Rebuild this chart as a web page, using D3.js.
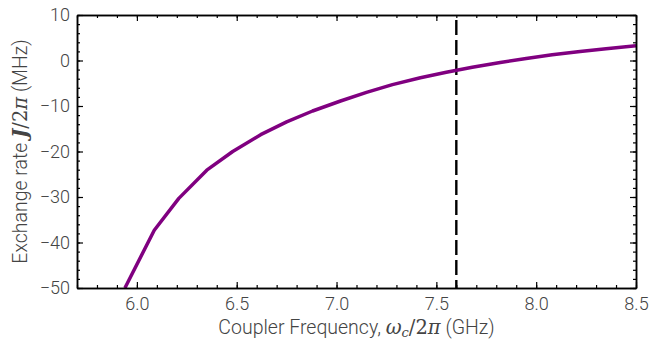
<!DOCTYPE html>
<html><head><meta charset="utf-8">
<script src="https://cdn.jsdelivr.net/npm/d3@7"></script>
<style>
body{margin:0;background:#fff;}
svg{display:block;}
.tick text{font-family:Roboto,"DejaVu Sans",sans-serif;font-weight:300;font-size:18px;fill:#444;}
</style></head>
<body><svg id="c" width="650" height="341"></svg>
<script>
const freqGHz = [5.94, 6.087, 6.21, 6.35, 6.48, 6.62, 6.75, 6.88, 7.02, 7.15, 7.28, 7.42, 7.55, 7.68, 7.82, 7.95, 8.08, 8.22, 8.35, 8.5];
const exchangeMHz = [-50, -37.3, -30.3, -24.1, -20.0, -16.3, -13.5, -11.1, -8.9, -7.0, -5.3, -3.8, -2.6, -1.5, -0.45, 0.45, 1.25, 2.0, 2.6, 3.25];
const markerFreq = 7.6;
const xTicks = [6.0, 6.5, 7.0, 7.5, 8.0, 8.5];
const yTicks = [10, 0, -10, -20, -30, -40, -50];
const xDomain = [5.7, 8.5];
const yDomain = [-50, 10];

const svg = d3.select("#c");
const L = 77, R = 636, T = 15, B = 288;
const x = d3.scaleLinear().domain(xDomain).range([L, R]);
const y = d3.scaleLinear().domain(yDomain).range([B, T]);

const xMinor = d3.range(57, 86).map(d => d / 10);
const yMinor = d3.range(-50, 11, 2);

svg.append("defs").append("clipPath").attr("id", "clip")
  .append("rect").attr("x", L).attr("y", T).attr("width", R - L).attr("height", B - T);

const data = freqGHz.map((f, i) => [f, exchangeMHz[i]]);
const line = d3.line().x(d => x(d[0])).y(d => y(d[1]));

svg.append("line")
  .attr("x1", x(markerFreq)).attr("x2", x(markerFreq))
  .attr("y1", y(yDomain[1])).attr("y2", y(yDomain[0]))
  .attr("stroke", "#000").attr("stroke-width", 2.4)
  .attr("stroke-dasharray", "15,5").attr("stroke-dashoffset", 15);

svg.append("path").datum(data)
  .attr("clip-path", "url(#clip)")
  .attr("d", line).attr("fill", "none")
  .attr("stroke", "#800080").attr("stroke-width", 3.5)
  .attr("stroke-linejoin", "round");

function styleAxis(g) {
  g.selectAll(".domain").attr("stroke", "#000").attr("stroke-width", 1.5);
  g.selectAll(".tick line").attr("stroke", "#000").attr("stroke-width", 1.2);
}

// minor ticks
svg.append("g").attr("transform", `translate(0,${B})`)
  .call(d3.axisBottom(x).tickValues(xMinor).tickFormat("").tickSizeInner(-3).tickSizeOuter(0)).call(styleAxis);
svg.append("g").attr("transform", `translate(0,${T})`)
  .call(d3.axisTop(x).tickValues(xMinor).tickFormat("").tickSizeInner(-3).tickSizeOuter(0)).call(styleAxis);
svg.append("g").attr("transform", `translate(${L},0)`)
  .call(d3.axisLeft(y).tickValues(yMinor).tickFormat("").tickSizeInner(-3).tickSizeOuter(0)).call(styleAxis);
svg.append("g").attr("transform", `translate(${R},0)`)
  .call(d3.axisRight(y).tickValues(yMinor).tickFormat("").tickSizeInner(-3).tickSizeOuter(0)).call(styleAxis);

// major ticks
svg.append("g").attr("transform", `translate(0,${B})`)
  .call(d3.axisBottom(x).tickValues(xTicks).tickFormat(d3.format(".1f")).tickSizeInner(-6).tickSizeOuter(0).tickPadding(9)).call(styleAxis);
svg.append("g").attr("transform", `translate(0,${T})`)
  .call(d3.axisTop(x).tickValues(xTicks).tickFormat("").tickSizeInner(-6).tickSizeOuter(0)).call(styleAxis);
svg.append("g").attr("transform", `translate(${L},0)`)
  .call(d3.axisLeft(y).tickValues(yTicks).tickFormat(d => d < 0 ? "\u2212" + Math.abs(d) : d).tickSizeInner(-6).tickSizeOuter(0).tickPadding(7)).call(styleAxis);
svg.append("g").attr("transform", `translate(${R},0)`)
  .call(d3.axisRight(y).tickValues(yTicks).tickFormat("").tickSizeInner(-6).tickSizeOuter(0)).call(styleAxis);

// axis titles
const xt = svg.append("text").attr("x", (L + R) / 2).attr("y", 334)
  .attr("text-anchor", "middle")
  .style("font-family", "Roboto, 'DejaVu Sans', sans-serif").style("font-weight", 300)
  .style("font-size", "19.5px").style("fill", "#444");
xt.append("tspan").text("Coupler Frequency, ");
xt.append("tspan").style("font-family", "'DejaVu Serif', serif").style("font-style", "italic").style("font-weight", 400).text("\u03c9");
xt.append("tspan").style("font-family", "'DejaVu Serif', serif").style("font-style", "italic").style("font-size", "13px").attr("dy", 3).text("c");
xt.append("tspan").attr("dy", -3).style("font-family", "'DejaVu Serif', serif").style("font-weight", 400).text("/2");
xt.append("tspan").style("font-family", "'DejaVu Serif', serif").style("font-style", "italic").style("font-weight", 400).text("\u03c0");
xt.append("tspan").text(" (GHz)");

const yt = svg.append("text").attr("transform", `translate(27,${(T + B) / 2}) rotate(-90)`)
  .attr("text-anchor", "middle")
  .style("font-family", "Roboto, 'DejaVu Sans', sans-serif").style("font-weight", 300)
  .style("font-size", "19.5px").style("fill", "#444");
yt.append("tspan").text("Exchange rate ");
yt.append("tspan").style("font-family", "'DejaVu Serif', serif").style("font-style", "italic").style("font-weight", 700).text("J");
yt.append("tspan").style("font-family", "'DejaVu Serif', serif").style("font-weight", 400).text("/2");
yt.append("tspan").style("font-family", "'DejaVu Serif', serif").style("font-style", "italic").style("font-weight", 400).text("\u03c0");
yt.append("tspan").text(" (MHz)");
</script></body></html>
